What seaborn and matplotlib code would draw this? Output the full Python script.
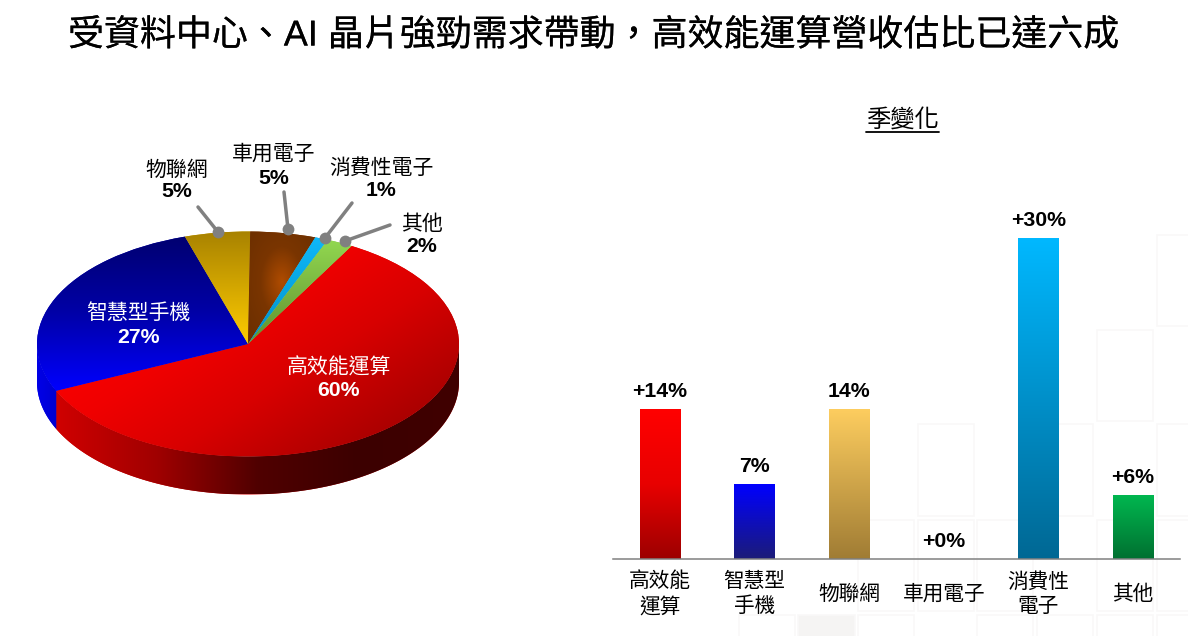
import numpy as np
import pandas as pd
import matplotlib
matplotlib.use('Agg')
import matplotlib.pyplot as plt
import matplotlib.patheffects as pe
import seaborn as sns
from matplotlib.colors import LinearSegmentedColormap
from matplotlib.lines import Line2D
from matplotlib.patches import Polygon, Rectangle

# share of revenue (pie), clockwise from the red slice
pie_names = ['高效能運算', '智慧型手機', '物聯網', '車用電子', '消費性電子', '其他']
pie_values = [60, 27, 5, 5, 1, 2]
pie_labels = ['60%', '27%', '5%', '5%', '1%', '2%']

# quarter on quarter change (bars)
bar_names = ['高效能\n運算', '智慧型\n手機', '物聯網', '車用電子', '消費性\n電子', '其他']
bar_values = [14, 7, 14, 0, 30, 6]
bar_labels = ['+14%', '7%', '14%', '+0%', '+30%', '+6%']

W, H = 1188, 636
LATIN_CJK = ['Liberation Sans', 'Noto Sans CJK TC']
# the CJK text of the reference is a bit heavier than the regular weight
HEAVY = [pe.withStroke(linewidth=0.12, foreground='black')]

sns.set_theme(style='white')
plt.rcParams['font.family'] = LATIN_CJK

fig = plt.figure(figsize=(W / 100, H / 100), dpi=100, facecolor='white')


def fx(x):
    return x / W


def fy(y):
    return 1 - y / H


def put_text(x, y, s, size, color='black', weight='normal', effects=None):
    fig.text(fx(x), fy(y), s, fontsize=size, color=color, weight=weight,
             ha='center', va='center', family=LATIN_CJK, path_effects=effects)


def fill(ax, patch, colors, direction='v', z=2):
    # paint a gradient through the shape of the patch
    x0, y0, x1, y1 = patch.get_path().get_extents(patch.get_patch_transform()).extents
    g = np.linspace(0, 1, 256)
    xx, yy = np.meshgrid(g, g)  # yy=0 is the top row of the image
    if direction == 'v':
        v = yy
    elif direction == 'h':
        v = xx
    elif direction == 'r':
        v = np.clip(1.6 * np.hypot(xx - 0.5, yy - 0.45), 0, 1)
    else:
        v = 0.55 * xx + 0.45 * yy
    cmap = LinearSegmentedColormap.from_list('g', colors)
    im = ax.imshow(v, extent=(x0, x1, y0, y1), cmap=cmap, vmin=0, vmax=1,
                   aspect='auto', origin='upper', zorder=z, interpolation='bilinear')
    im.set_clip_path(patch)


# faint squares of the slide background
squares = [(918, 424, 56, 92), (1040, 424, 53, 92), (1097, 330, 56, 91), (1157, 235, 40, 91),
           (1157, 424, 40, 92), (858, 520, 56, 91), (918, 520, 56, 91), (977, 520, 56, 91),
           (1097, 520, 56, 91), (1157, 520, 40, 91), (739, 615, 56, 30), (798, 615, 57, 30),
           (858, 615, 56, 30), (977, 615, 56, 30), (1037, 615, 56, 30), (1097, 615, 56, 30),
           (1157, 615, 40, 30)]
for x, y, w, h in squares:
    face = '#f5f4f3' if (x, y) == (798, 615) else 'white'
    fig.add_artist(Rectangle((fx(x), fy(y + h)), w / W, h / H, transform=fig.transFigure,
                             facecolor=face, edgecolor='#f9f8f8', lw=1.2, zorder=-1))

put_text(594, 36, '受資料中心、AI 晶片強勁需求帶動，高效能運算營收估比已達六成', 25.9, effects=HEAVY)

# ---- pie, squashed into an ellipse with a dark wall below it ----
cx, cy, rx, ry = 248, 344, 211, 112.5
depth = 38 / ry
ax_left, ax_top, ax_right, ax_bottom = 0, 100, 500, 530
ax1 = fig.add_axes([fx(ax_left), fy(ax_bottom), (ax_right - ax_left) / W, (ax_bottom - ax_top) / H])
ax1.patch.set_alpha(0)

base_colors = ['#d80000', '#0000c0', '#c8a000', '#803800', '#00b0f0', '#80c040']
wedges, _ = ax1.pie(pie_values, startangle=60.6, counterclock=False, colors=base_colors,
                    wedgeprops={'linewidth': 0})

top_ramps = [
    ['#ff0000', '#ff0000', '#f00000', '#d80000', '#b40000', '#900000'],
    ['#000070', '#0000a8', '#0000ff'],
    ['#a88200', '#ffcc00'],
    ['#b04c00', '#7a3500', '#6e3000'],
    ['#10b8f8', '#0090c8'],
    ['#92d850', '#5f9030'],
]
directions = ['d', 'v', 'v', 'r', 'v', 'v']
for wedge, ramp, d in zip(wedges, top_ramps, directions):
    fill(ax1, wedge, ramp, d, z=3)

wall_ramps = [['#d00000', '#a00000', '#500000', '#3c0000', '#400000'], ['#0000e8', '#0000d0']]
for wedge, ramp in zip(wedges[:2], wall_ramps):
    t = np.radians(np.linspace(wedge.theta1, wedge.theta2, 300))
    t = t[np.sin(t) <= 0]
    top = np.column_stack([np.cos(t), np.sin(t)])
    low = top[::-1] - [0, depth]
    wall = Polygon(np.vstack([top, low]), closed=True, facecolor=ramp[0], edgecolor='none', zorder=2)
    ax1.add_patch(wall)
    fill(ax1, wall, ramp, 'h', z=2)

ax1.set_aspect('auto')
ax1.set_xlim((ax_left - cx) / rx, (ax_right - cx) / rx)
ax1.set_ylim((cy - ax_bottom) / ry, (cy - ax_top) / ry)
ax1.axis('off')

# labels of the pie: name position, percent position, colour
pie_text_pos = [(339, 367, 391, 'white'), (138, 313, 337, 'white'), (177, 170, 192, 'black'),
                (274, 154, 179, 'black'), (381, 168, 190, 'black'), (422, 224, 246, 'black')]
for name, label, (x, y1, y2, c) in zip(pie_names, pie_labels, pie_text_pos):
    put_text(x, y1, name, 15, color=c)
    put_text(x, y2, label, 15.3, color=c, weight='bold')

# leader lines with a dot on the slice
leaders = [((198, 207), (218, 232)), ((284, 192), (288, 229)),
           ((352, 203), (325, 238)), ((390, 225), (345, 241))]
for (x0, y0), (x1, y1) in leaders:
    fig.add_artist(Line2D([fx(x0), fx(x1)], [fy(y0), fy(y1)], transform=fig.transFigure,
                          color='#808080', lw=2.5, zorder=4))
    fig.add_artist(Line2D([fx(x1)], [fy(y1)], transform=fig.transFigure, color='#808080',
                          marker='o', ms=8.5, mew=0, zorder=4))

# ---- bars ----
ax2 = fig.add_axes([fx(612.7), fy(559), (1180.3 - 612.7) / W, 353 / H])
ax2.patch.set_alpha(0)
df = pd.DataFrame({'name': bar_names, 'value': bar_values})
sns.barplot(data=df, x='name', y='value', hue='name', legend=False, ax=ax2, width=0.425,
            palette=['#d00000', '#1010c0', '#d0a850', '#808080', '#0090c8', '#00a040'],
            linewidth=0, saturation=1)

bar_ramps = [['#ff0000', '#e80000', '#9c0000'], ['#0000ff', '#1c1c78'], ['#fdcd5f', '#a07c34'],
             ['#808080', '#808080'], ['#00b8ff', '#006894'], ['#00b850', '#007030']]
for bar, ramp, label, val in zip(ax2.patches, bar_ramps, bar_labels, bar_values):
    if val > 0:
        fill(ax2, bar, ramp, 'v')
    ax2.annotate(label, (bar.get_x() + bar.get_width() / 2, val), xytext=(0, 12.8),
                 textcoords='offset points', ha='center', va='center', fontsize=15.3,
                 weight='bold', color='black')

ax2.set_xlim(-0.5, 5.5)
ax2.set_ylim(0, 33)
ax2.set_xlabel('')
ax2.set_ylabel('')
ax2.set_yticks([])
ax2.tick_params(axis='x', length=0, pad=25, labelsize=14.9, colors='black')
for t in ax2.get_xticklabels():
    t.set_va('center')
    t.set_linespacing(1.35)
sns.despine(ax=ax2, left=True)
ax2.spines['bottom'].set_color('#808080')
ax2.spines['bottom'].set_linewidth(1.1)

put_text(902, 120, '季變化', 17.5)
fig.add_artist(Line2D([fx(866), fx(939)], [fy(132), fy(132)], transform=fig.transFigure,
                      color='black', lw=1.3))

fig.savefig('out.png', dpi=100)
